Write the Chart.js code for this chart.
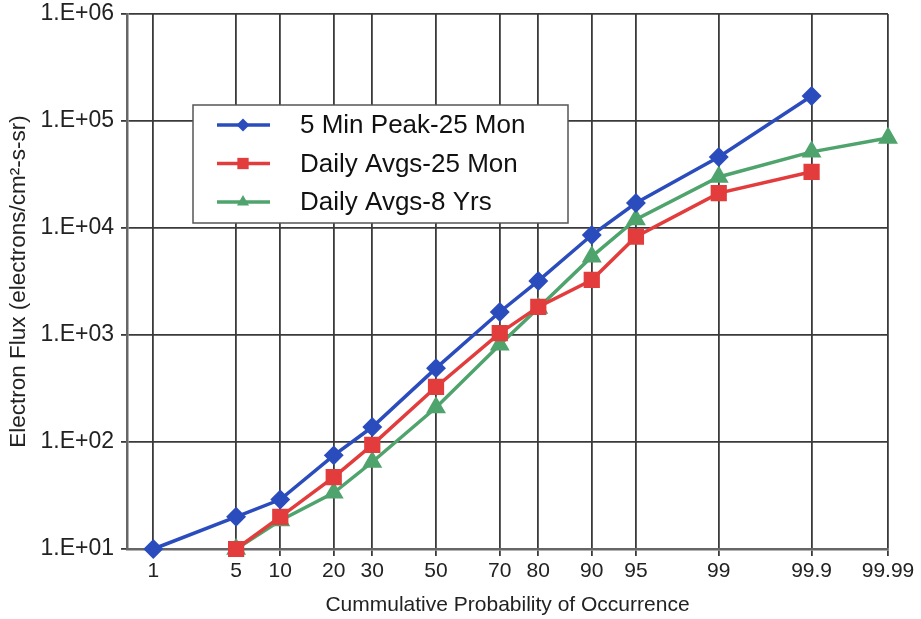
<!DOCTYPE html>
<html>
<head>
<meta charset="utf-8">
<script src="https://cdn.jsdelivr.net/npm/chart.js@4.4.1/dist/chart.umd.min.js"></script>
<style>
  html, body { margin: 0; padding: 0; background: #fff; }
  #wrap { width: 921px; height: 619px; }
</style>
</head>
<body>
<div id="wrap"><canvas id="fluxChart" width="921" height="619"></canvas></div>
<script>
// cumulative probability (%) tick positions on the x axis
const xTicks = [1, 5, 10, 20, 30, 50, 70, 80, 90, 95, 99, 99.9, 99.99];
const yTicks = [1e1, 1e2, 1e3, 1e4, 1e5, 1e6];
const yTickLabels = ["1.E+01", "1.E+02", "1.E+03", "1.E+04", "1.E+05", "1.E+06"];

const peakProb = [1, 5, 10, 20, 30, 50, 70, 80, 90, 95, 99, 99.9];
const peakFlux = [10, 20, 29, 75, 138, 490, 1640, 3200, 8600, 17100, 46000, 171000];

const daily25Prob = [5, 10, 20, 30, 50, 70, 80, 90, 95, 99, 99.9];
const daily25Flux = [10, 20, 47, 94, 327, 1040, 1830, 3270, 8300, 21200, 33500];

const daily8Prob = [5, 10, 20, 30, 50, 70, 80, 90, 95, 99, 99.9, 99.99];
const daily8Flux = [10, 18.5, 33.5, 65, 210, 810, 1790, 5400, 12000, 30000, 51500, 69500];

// inverse of the standard normal CDF (Acklam)
function probit(p) {
  const a = [-39.69683028665376, 220.9460984245205, -275.9285104469687, 138.3577518672690, -30.66479806614716, 2.506628277459239];
  const b = [-54.47609879822406, 161.5858368580409, -155.6989798598866, 66.80131188771972, -13.28068155288572];
  const c = [-0.007784894002430293, -0.3223964580411365, -2.400758277161838, -2.549732539343734, 4.374664141464968, 2.938163982698783];
  const d = [0.007784695709041462, 0.3224671290700398, 2.445134137142996, 3.754408661907416];
  const pl = 0.02425;
  let q, r;
  if (p < pl) {
    q = Math.sqrt(-2 * Math.log(p));
    return (((((c[0]*q+c[1])*q+c[2])*q+c[3])*q+c[4])*q+c[5]) / ((((d[0]*q+d[1])*q+d[2])*q+d[3])*q+1);
  }
  if (p > 1 - pl) {
    q = Math.sqrt(-2 * Math.log(1 - p));
    return -(((((c[0]*q+c[1])*q+c[2])*q+c[3])*q+c[4])*q+c[5]) / ((((d[0]*q+d[1])*q+d[2])*q+d[3])*q+1);
  }
  q = p - 0.5;
  r = q * q;
  return (((((a[0]*r+a[1])*r+a[2])*r+a[3])*r+a[4])*r+a[5])*q / (((((b[0]*r+b[1])*r+b[2])*r+b[3])*r+b[4])*r+1);
}

function normCdf(z) {
  const t = 1 / (1 + 0.3275911 * Math.abs(z) / Math.SQRT2);
  const y = 1 - (((((1.061405429*t - 1.453152027)*t) + 1.421413741)*t - 0.284496736)*t + 0.254829592)*t * Math.exp(-z*z/2);
  return z >= 0 ? 0.5 * (1 + y) : 0.5 * (1 - y);
}

// normal-probability axis
class ProbabilityScale extends Chart.Scale {
  determineDataLimits() {
    this.min = this.options.min;
    this.max = this.options.max;
  }
  buildTicks() {
    return xTicks.map(v => ({ value: v }));
  }
  getLabelForValue(v) {
    return String(v);
  }
  configure() {
    super.configure();
    this._zStart = probit(this.min / 100);
    this._zRange = probit(this.max / 100) - this._zStart;
  }
  getPixelForValue(v) {
    return this.getPixelForDecimal((probit(v / 100) - this._zStart) / this._zRange);
  }
  getPixelForTick(i) {
    return this.getPixelForValue(this.ticks[i].value);
  }
  getValueForPixel(px) {
    return 100 * normCdf(this._zStart + this.getDecimalForPixel(px) * this._zRange);
  }
}
ProbabilityScale.id = "probability";
ProbabilityScale.defaults = {};
Chart.register(ProbabilityScale);

const pts = (xs, ys) => xs.map((x, i) => ({ x: x, y: ys[i] }));

const boxLegend = {
  id: "boxLegend",
  afterDraw(chart) {
    const { ctx, chartArea } = chart;
    const left = chartArea.left + 66, top = chartArea.top + 91;
    const w = 375, h = 118, rowH = 38.5;
    ctx.save();
    ctx.fillStyle = "#fff";
    ctx.fillRect(left, top, w, h);
    ctx.strokeStyle = "#555";
    ctx.lineWidth = 1.5;
    ctx.strokeRect(left, top, w, h);
    ctx.font = "26px 'Liberation Sans', Arial, sans-serif";
    ctx.textBaseline = "middle";
    chart.data.datasets.forEach((ds, i) => {
      const y = top + 20 + i * rowH;
      ctx.strokeStyle = ds.borderColor;
      ctx.lineWidth = ds.borderWidth;
      ctx.beginPath();
      ctx.moveTo(left + 24, y);
      ctx.lineTo(left + 77, y);
      ctx.stroke();
      ctx.fillStyle = ds.backgroundColor;
      Chart.helpers.drawPoint(ctx, { pointStyle: ds.pointStyle, radius: ds.pointRadius - 1, rotation: 0, borderWidth: 0 }, left + 50, y);
      ctx.fillStyle = "#111";
      ctx.fillText(ds.label, left + 107, y + 1);
    });
    ctx.restore();
  }
};

const font = "'Liberation Sans', Arial, sans-serif";

new Chart(document.getElementById("fluxChart"), {
  type: "line",
  data: {
    datasets: [
      {
        label: "5 Min Peak-25 Mon",
        data: pts(peakProb, peakFlux),
        borderColor: "#2b4cbc",
        backgroundColor: "#2b4cbc",
        borderWidth: 3.5,
        pointStyle: "rectRot",
        pointRadius: 7.5,
        clip: false
      },
      {
        label: "Daily Avgs-25 Mon",
        data: pts(daily25Prob, daily25Flux),
        borderColor: "#e23c3c",
        backgroundColor: "#e23c3c",
        borderWidth: 3.5,
        pointStyle: "rect",
        pointRadius: 9,
        clip: false
      },
      {
        label: "Daily Avgs-8 Yrs",
        data: pts(daily8Prob, daily8Flux),
        borderColor: "#4fa36c",
        backgroundColor: "#4fa36c",
        borderWidth: 3.5,
        pointStyle: "triangle",
        pointRadius: 8,
        clip: false
      }
    ]
  },
  options: {
    responsive: false,
    animation: false,
    layout: { padding: { left: 0, right: 33, top: 14, bottom: 0 } },
    plugins: {
      legend: { display: false },
      tooltip: { enabled: false }
    },
    scales: {
      x: {
        type: "probability",
        position: "bottom",
        min: 0.55,
        max: 99.99,
        afterFit: s => { s.height = 70; s.paddingLeft = 0; s.paddingRight = 0; },
        grid: { color: "#3a3a3a", lineWidth: 1.8, tickLength: 7, tickColor: "#3a3a3a" },
        border: { color: "#666", width: 2.5 },
        ticks: { color: "#222", font: { family: font, size: 21 }, padding: 3, maxRotation: 0, autoSkip: false },
        title: {
          display: true,
          text: "Cummulative Probability of Occurrence",
          color: "#222",
          font: { family: font, size: 21 },
          padding: { top: 0, bottom: 1 }
        }
      },
      y: {
        type: "logarithmic",
        min: 10,
        max: 1e6,
        afterFit: s => { s.width = 127; s.paddingTop = 0; s.paddingBottom = 0; },
        afterBuildTicks: s => { s.ticks = yTicks.map(v => ({ value: v, major: true })); },
        grid: { color: "#3a3a3a", lineWidth: 1.8, tickLength: 6, tickColor: "#3a3a3a" },
        border: { color: "#666", width: 2.5 },
        ticks: {
          color: "#222",
          font: { family: font, size: 23, lineHeight: 1 },
          padding: 7,
          callback: v => yTickLabels[yTicks.indexOf(v)]
        },
        title: {
          display: true,
          text: "Electron Flux (electrons/cm²-s-sr)",
          color: "#222",
          font: { family: font, size: 22.5 },
          padding: { top: 5, bottom: 0 }
        }
      }
    }
  },
  plugins: [boxLegend]
});
</script>
</body>
</html>
